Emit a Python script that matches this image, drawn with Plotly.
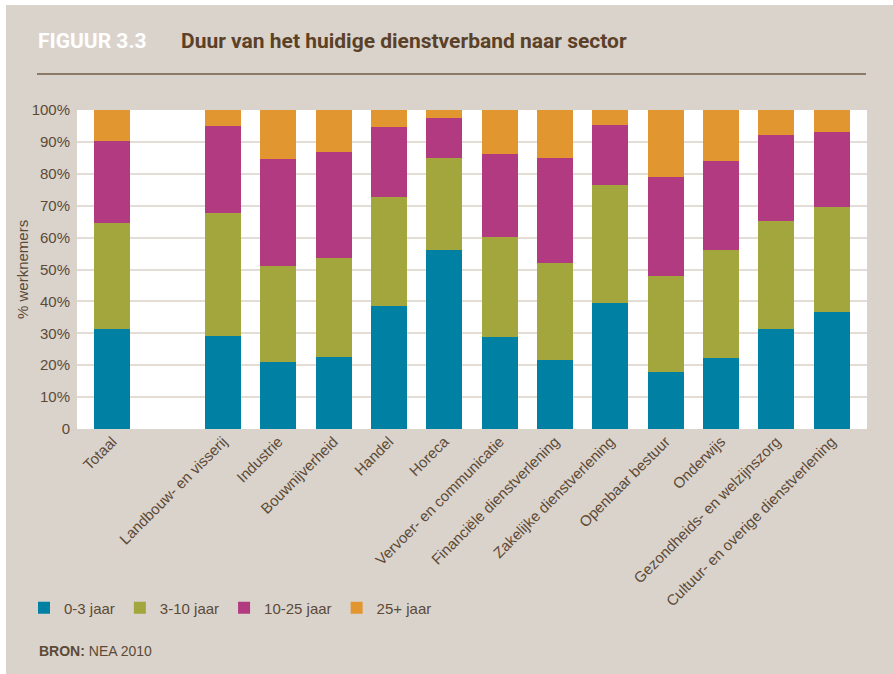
import plotly.graph_objects as go

# sectors (blank slot after Totaal, as in the source figure)
sectors = ["Totaal", " ", "Landbouw- en visserij", "Industrie", "Bouwnijverheid", "Handel",
           "Horeca", "Vervoer- en communicatie", "Financiële dienstverlening",
           "Zakelijke dienstverlening", "Openbaar bestuur", "Onderwijs",
           "Gezondheids- en welzijnszorg", "Cultuur- en overige dienstverlening"]

jaar_0_3 = [31.3, None, 29.2, 21.0, 22.6, 38.6, 56.1, 28.8, 21.6, 39.5, 17.9, 22.3, 31.3, 36.7]
jaar_3_10 = [33.3, None, 38.5, 30.1, 31.0, 34.1, 28.9, 31.4, 30.4, 37.0, 30.1, 33.8, 33.9, 32.9]
jaar_10_25 = [25.7, None, 27.3, 33.5, 33.2, 22.0, 12.5, 26.0, 33.0, 18.8, 31.0, 27.9, 27.0, 23.5]
jaar_25_plus = [9.7, None, 5.0, 15.4, 13.2, 5.3, 2.5, 13.8, 15.0, 4.7, 21.0, 16.0, 7.8, 6.9]

series = [("0-3 jaar", jaar_0_3, "#0081A4"),
          ("3-10 jaar", jaar_3_10, "#A3A53D"),
          ("10-25 jaar", jaar_10_25, "#B23A80"),
          ("25+ jaar", jaar_25_plus, "#E2962F")]

y_ticks = [0, 10, 20, 30, 40, 50, 60, 70, 80, 90, 100]
y_ticktext = ["0", "10%", "20%", "30%", "40%", "50%", "60%", "70%", "80%", "90%", "100%"]

W, H = 893, 674
L, R, T, B = 77, 867, 110, 429
BG = "#DAD3CC"
TXT = "#5C4A36"
FONT = "Liberation Sans, Arial, sans-serif"
HEAD = "Roboto, Liberation Sans, sans-serif"


def px(x):
    return (x - L) / (R - L)


def py(y):
    return (B - y) / (B - T)


fig = go.Figure()
for name, vals, col in series:
    fig.add_trace(go.Bar(x=sectors, y=vals, name=name, marker=dict(color=col, line=dict(width=0)),
                         width=0.65))

fig.update_layout(
    width=W, height=H,
    barmode="stack",
    paper_bgcolor="white",
    plot_bgcolor="white",
    margin=dict(l=L, r=W - R, t=T, b=H - B, pad=0),
    font=dict(family=FONT, color=TXT, size=14),
    legend=dict(orientation="h", x=px(24), y=py(608), xanchor="left", yanchor="middle",
                font=dict(size=15, color=TXT), bgcolor="rgba(0,0,0,0)",
                itemwidth=30, traceorder="normal"),
    xaxis=dict(type="category", categoryorder="array", categoryarray=sectors,
               range=[-0.64, 13.64], tickangle=-45, showgrid=False, ticks="",
               showline=False, tickfont=dict(size=15, color=TXT)),
    yaxis=dict(range=[0, 100], tickvals=y_ticks, ticktext=y_ticktext,
               showgrid=True, gridcolor="#E3DDD6", gridwidth=2, zeroline=False,
               tickfont=dict(size=15, color=TXT), ticks="", ticklabelstandoff=6),
    bargap=0.35,
)

shapes = [
    # beige panel behind everything
    dict(type="rect", xref="paper", yref="paper", x0=px(6), x1=px(W + 5), y0=py(5), y1=py(H + 5),
         fillcolor=BG, line=dict(width=0), layer="below"),
    # white plot area
    dict(type="rect", xref="paper", yref="paper", x0=0, x1=1, y0=0, y1=1,
         fillcolor="white", line=dict(width=0), layer="below"),
    # rule under the heading
    dict(type="line", xref="paper", yref="paper", x0=px(37), x1=px(866), y0=py(74), y1=py(74),
         line=dict(color="#8B7A66", width=2)),
]
fig.update_layout(shapes=shapes)

fig.add_annotation(text="<b>FIGUUR 3.3</b>", xref="paper", yref="paper", x=px(36), y=py(41),
                   xanchor="left", yanchor="middle", showarrow=False,
                   font=dict(family=HEAD, size=21, color="white"))
fig.add_annotation(text="<b>Duur van het huidige dienstverband naar sector</b>", xref="paper",
                   yref="paper", x=px(179), y=py(41), xanchor="left", yanchor="middle",
                   showarrow=False, font=dict(family=HEAD, size=21, color="#5A4128"))
fig.add_annotation(text="% werknemers", xref="paper", yref="paper", x=px(22), y=py(270),
                   xanchor="center", yanchor="middle", textangle=-90, showarrow=False,
                   font=dict(family=FONT, size=15, color=TXT))
fig.add_annotation(text="<b>BRON:</b> NEA 2010", xref="paper", yref="paper", x=px(37), y=py(651),
                   xanchor="left", yanchor="middle", showarrow=False,
                   font=dict(family=FONT, size=14, color=TXT))

fig.write_html("out.html", config={"displayModeBar": False},
               post_script="document.body.style.margin='0';")
